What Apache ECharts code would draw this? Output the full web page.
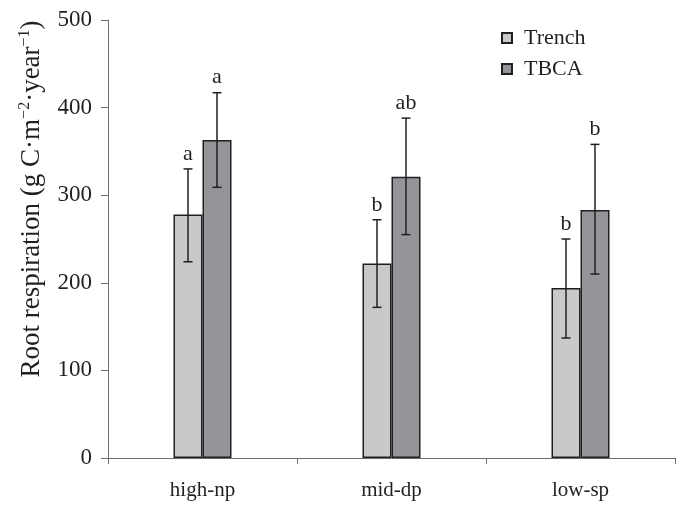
<!DOCTYPE html>
<html>
<head>
<meta charset="utf-8">
<script src="https://cdn.jsdelivr.net/npm/echarts@6/dist/echarts.min.js"></script>
<style>
  html, body { margin: 0; padding: 0; background: #fff; }
  #chart { width: 679px; height: 505px; }
</style>
</head>
<body>
<div id="chart"></div>
<script>
// data
var sites = ['high-np', 'mid-dp', 'low-sp'];
var trench = [278, 222, 194];
var trenchLow = [224, 172, 137];
var trenchHigh = [330, 272, 250];
var trenchLetters = ['a', 'b', 'b'];
var tbca = [363, 321, 283];
var tbcaLow = [309, 255, 210];
var tbcaHigh = [417, 388, 358];
var tbcaLetters = ['a', 'ab', 'b'];

var FONT = '"Liberation Serif", "Times New Roman", serif';
var INK = '#231f20';

function errData(low, high, letters) {
  return sites.map(function (s, i) {
    return [i, low[i], high[i], letters[i]];
  });
}

function errSeries(name, low, high, letters, offset) {
  return {
    name: name,
    type: 'custom',
    z: 5,
    data: errData(low, high, letters),
    renderItem: function (params, api) {
      var top = api.coord([api.value(0), api.value(2)]);
      var bot = api.coord([api.value(0), api.value(1)]);
      var cx = top[0] + offset;
      var cap = 4.5;
      var ls = { stroke: INK, lineWidth: 1.5 };
      return {
        type: 'group',
        children: [
          { type: 'line', shape: { x1: cx, y1: top[1], x2: cx, y2: bot[1] }, style: ls },
          { type: 'line', shape: { x1: cx - cap, y1: top[1], x2: cx + cap, y2: top[1] }, style: ls },
          { type: 'line', shape: { x1: cx - cap, y1: bot[1], x2: cx + cap, y2: bot[1] }, style: ls },
          { type: 'text', style: {
              text: letters[params.dataIndex], x: cx, y: top[1] - 4,
              align: 'center', verticalAlign: 'bottom',
              font: '22px ' + FONT, fill: INK } }
        ]
      };
    }
  };
}

var chart = echarts.init(document.getElementById('chart'));
chart.setOption({
  animation: false,
  backgroundColor: '#fff',
  textStyle: { fontFamily: FONT, color: INK },
  grid: { left: 108, right: 4, top: 20, bottom: 47, containLabel: false },
  legend: {
    orient: 'vertical',
    left: 501,
    top: 27,
    padding: 0,
    itemWidth: 10,
    itemHeight: 10,
    itemGap: 9,
    icon: 'rect',
    data: ['Trench', 'TBCA'],
    textStyle: { fontFamily: FONT, fontSize: 22, color: INK, padding: [0, 0, 0, 7] }
  },
  xAxis: {
    type: 'category',
    data: sites,
    axisLine: { lineStyle: { color: '#6d6e71', width: 1 } },
    axisTick: { show: true, length: 6, alignWithLabel: false, lineStyle: { color: '#6d6e71' } },
    axisLabel: { fontFamily: FONT, fontSize: 21, color: INK, margin: 22 }
  },
  yAxis: {
    type: 'value',
    min: 0,
    max: 500,
    interval: 100,
    name: '{n|Root respiration (g C·m}{s|−2}{n|·year}{s|−1}{n|)}',
    nameLocation: 'middle',
    nameGap: 61,
    nameRotate: 90,
    nameTextStyle: {
      padding: [0, 0, 0, 80],
      rich: {
        n: { fontFamily: FONT, fontSize: 27, color: INK, lineHeight: 30 },
        s: { fontFamily: FONT, fontSize: 16, color: INK, verticalAlign: 'top', lineHeight: 30, padding: [0, 0, 10, 0] }
      }
    },
    splitLine: { show: false },
    axisLine: { show: true, lineStyle: { color: '#6d6e71', width: 1 } },
    axisTick: { show: true, length: 7, lineStyle: { color: '#6d6e71' } },
    axisLabel: { fontFamily: FONT, fontSize: 23, color: INK, margin: 16 }
  },
  series: [
    {
      name: 'Trench',
      type: 'bar',
      data: trench,
      barWidth: 29,
      barGap: '0%',
      itemStyle: { color: '#c8c9cb', borderColor: INK, borderWidth: 1.5 }
    },
    {
      name: 'TBCA',
      type: 'bar',
      data: tbca,
      barWidth: 29,
      barGap: '0%',
      itemStyle: { color: '#939598', borderColor: INK, borderWidth: 1.5 }
    },
    errSeries('Trench', trenchLow, trenchHigh, trenchLetters, -14.5),
    errSeries('TBCA', tbcaLow, tbcaHigh, tbcaLetters, 14.5)
  ]
});
</script>
</body>
</html>
